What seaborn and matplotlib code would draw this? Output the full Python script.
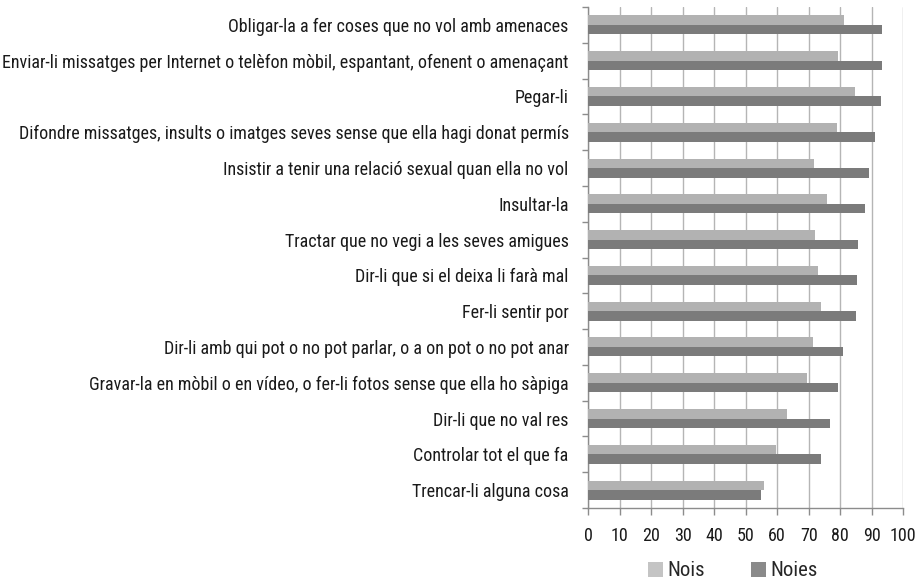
import matplotlib
matplotlib.use("Agg")
import matplotlib.pyplot as plt
import seaborn as sns
import pandas as pd
from matplotlib.ticker import FixedLocator
from matplotlib.patches import Patch

categories = [
    "Obligar-la a fer coses que no vol amb amenaces",
    "Enviar-li missatges per Internet o telèfon mòbil, espantant, ofenent o amenaçant",
    "Pegar-li",
    "Difondre missatges, insults o imatges seves sense que ella hagi donat permís",
    "Insistir a tenir una relació sexual quan ella no vol",
    "Insultar-la",
    "Tractar que no vegi a les seves amigues",
    "Dir-li que si el deixa li farà mal",
    "Fer-li sentir por",
    "Dir-li amb qui pot o no pot parlar, o a on pot o no pot anar",
    "Gravar-la en mòbil o en vídeo, o fer-li fotos sense que ella ho sàpiga",
    "Dir-li que no val res",
    "Controlar tot el que fa",
    "Trencar-li alguna cosa",
]
nois = [81.3, 79.2, 84.8, 79.0, 71.6, 75.9, 72.1, 73.1, 73.9, 71.4, 69.4, 63.0, 59.7, 55.8]
noies = [93.3, 93.3, 92.9, 91.1, 89.3, 87.8, 85.7, 85.3, 85.0, 81.0, 79.4, 76.7, 73.9, 54.8]
series = ["Nois", "Noies"]
xticks = list(range(0, 101, 10))

sns.set_theme(style="white")
plt.rcParams['font.family'] = ['Roboto Condensed', 'DejaVu Sans']

df = pd.DataFrame({
    "cat": categories * 2,
    "val": nois + noies,
    "serie": [series[0]] * len(nois) + [series[1]] * len(noies),
})

colors = {"Nois": "#b2b2b2", "Noies": "#7b7b7b"}

fig = plt.figure(figsize=(9.16, 5.79), dpi=100)
ax = fig.add_axes([0.642, 0.1226, 0.344, 0.8653])

sns.barplot(data=df, x="val", y="cat", hue="serie", hue_order=series,
            order=categories, palette=colors, orient="h", width=0.53,
            gap=0, edgecolor="none", linewidth=0, ax=ax, legend=False, zorder=3)

# fit font size so the longest label spans like the reference (~567 px)
fs = 13.0
renderer = fig.canvas.get_renderer()
t = fig.text(0, 0, max(categories, key=len), fontsize=fs)
w = t.get_window_extent(renderer).width
t.remove()
fs = fs * 565.0 / w

ax.set_xlim(0, 100)
ax.set_ylim(len(categories) - 0.5, -0.5)
ax.set_xticks(xticks)
ax.set_xticklabels([str(v) for v in xticks], fontsize=fs, color="#1a1a1a")
ax.set_xlabel("")
ax.set_ylabel("")
ax.xaxis.grid(True, color="#b5b5b5", linewidth=1, zorder=0)
ax.yaxis.grid(False)
ax.set_axisbelow(True)

ax.tick_params(axis="y", which="major", length=0, pad=14, labelsize=fs, labelcolor="#1a1a1a")
ax.yaxis.set_minor_locator(FixedLocator([i - 0.5 for i in range(len(categories) + 1)]))
ax.tick_params(axis="y", which="minor", length=4, color="#8c8c8c", width=1, direction="out", left=True)
ax.tick_params(axis="x", which="major", length=5, color="#8c8c8c", width=1, direction="out", bottom=True, pad=9)

for s in ["top", "right"]:
    ax.spines[s].set_visible(False)
for s in ["left", "bottom"]:
    ax.spines[s].set_color("#8c8c8c")
    ax.spines[s].set_linewidth(1)

handles = [Patch(facecolor="#c4c4c4", edgecolor="none", label="Nois"),
           Patch(facecolor="#8a8a8a", edgecolor="none", label="Noies")]
fig.legend(handles=handles, loc="center", bbox_to_anchor=(0.80, 0.014), ncol=2,
           frameon=False, fontsize=fs * 1.15, handlelength=0.75, handleheight=0.75,
           handletextpad=0.2, columnspacing=2.2)

fig.savefig("out.png", dpi=100)
